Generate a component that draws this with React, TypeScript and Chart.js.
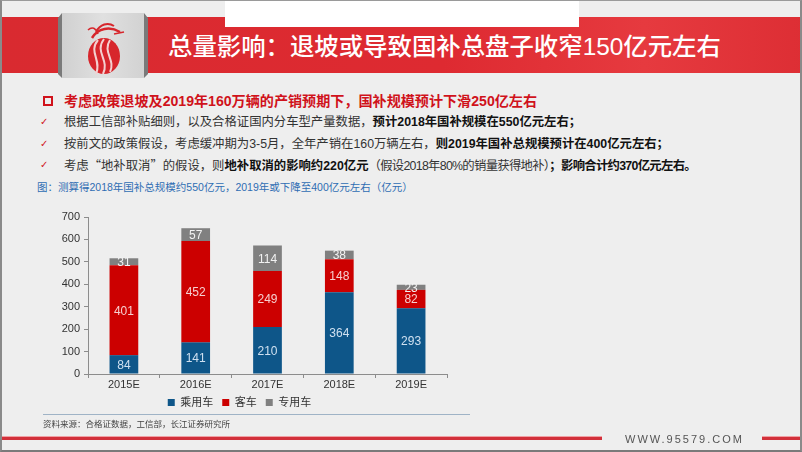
import React, { useEffect, useRef } from "react";
import { Chart, registerables } from "chart.js";

Chart.register(...registerables);

const categories = ["2015E", "2016E", "2017E", "2018E", "2019E"];
const passengerCar = [84, 141, 210, 364, 293];
const bus = [401, 452, 249, 148, 82];
const specialVehicle = [31, 57, 114, 38, 23];
const seriesNames = ["乘用车", "客车", "专用车"];
const seriesColors = ["#0e5689", "#cc0000", "#808080"];
const labelColors = ["#cfe0f0", "#f6cfcf", "#f2f2f2"];
const yMin = 0;
const yMax = 700;
const yStep = 100;

const CJK = '"Liberation Sans", "Noto Sans CJK SC", sans-serif';

const barLabels = {
  id: "barLabels",
  afterDatasetsDraw(chart: any) {
    const ctx = chart.ctx;
    chart.data.datasets.forEach((ds: any, i: number) => {
      const meta = chart.getDatasetMeta(i);
      meta.data.forEach((bar: any, j: number) => {
        const p = bar.getProps(["x", "y", "base"], true);
        ctx.save();
        ctx.fillStyle = labelColors[i];
        ctx.font = '12px "Liberation Sans", Arial, sans-serif';
        ctx.textAlign = "center";
        ctx.textBaseline = "middle";
        ctx.fillText(String(ds.data[j]), p.x, (p.y + p.base) / 2 + 1);
        ctx.restore();
      });
    });
  },
};

function BarChart() {
  const ref = useRef<HTMLCanvasElement | null>(null);
  useEffect(() => {
    if (!ref.current) return;
    const series = [passengerCar, bus, specialVehicle];
    const chart = new Chart(ref.current, {
      type: "bar",
      data: {
        labels: categories,
        datasets: series.map((d, i) => ({
          label: seriesNames[i],
          data: d,
          backgroundColor: seriesColors[i],
          borderWidth: 0,
          barPercentage: 0.4,
          categoryPercentage: 1,
        })),
      },
      options: {
        responsive: false,
        animation: false,
        devicePixelRatio: 1,
        layout: { padding: { top: 11, right: 35, left: 0, bottom: 0 } },
        plugins: {
          tooltip: { enabled: false },
          legend: {
            position: "bottom",
            labels: {
              boxWidth: 7,
              boxHeight: 7,
              padding: 9,
              color: "#333",
              font: { size: 11, family: CJK },
            },
          },
        },
        scales: {
          x: {
            stacked: true,
            grid: {
              display: true,
              drawOnChartArea: false,
              drawTicks: true,
              tickLength: 4,
              color: "#8c8c8c",
              offset: true,
            },
            border: { color: "#8c8c8c", width: 1 },
            ticks: {
              color: "#333",
              padding: 0,
              font: { size: 11, family: '"Liberation Sans", Arial, sans-serif' },
            },
            afterFit: (s: any) => {
              s.height = 14;
            },
          },
          y: {
            stacked: true,
            min: yMin,
            max: yMax,
            ticks: {
              stepSize: yStep,
              color: "#333",
              padding: 4,
              font: { size: 11, family: '"Liberation Sans", Arial, sans-serif' },
            },
            grid: {
              display: true,
              drawOnChartArea: false,
              drawTicks: true,
              tickLength: 4,
              color: "#8c8c8c",
            },
            border: { color: "#8c8c8c", width: 1 },
            afterFit: (s: any) => {
              s.width = 56;
            },
          },
        },
      },
      plugins: [barLabels],
    } as any);
    return () => chart.destroy();
  }, []);
  return (
    <canvas
      ref={ref}
      width={450}
      height={212}
      style={{ position: "absolute", left: 30, top: 205, width: 450, height: 212 }}
    />
  );
}

function Line({ y, x, size, children, color, weight }: any) {
  return (
    <div
      style={{
        position: "absolute",
        left: x,
        top: y - size,
        height: size * 2,
        lineHeight: `${size * 2}px`,
        fontSize: size,
        color: color || "#333",
        fontWeight: weight || 400,
        whiteSpace: "nowrap",
        fontFamily: CJK,
      }}
    >
      {children}
    </div>
  );
}

function Check({ y }: { y: number }) {
  return (
    <div
      style={{
        position: "absolute",
        left: 38,
        top: y - 8,
        height: 16,
        lineHeight: "16px",
        fontSize: 10,
        color: "#d0121b",
        fontFamily: '"DejaVu Sans", sans-serif',
      }}
    >
      ✓
    </div>
  );
}

export default function App() {
  useEffect(() => {
    document.body.style.margin = "0";
  }, []);
  const B = (t: string) => <b style={{ color: "#111", fontWeight: 700 }}>{t}</b>;
  const Q = (t: string) => <span style={{ fontFamily: '"Noto Sans CJK SC", sans-serif' }}>{t}</span>;
  const fs = 12.35;
  return (
    <div
      style={{
        position: "fixed",
        left: 0,
        top: 0,
        width: 802,
        height: 452,
        boxSizing: "border-box",
        background: "#eeeeee",
        borderLeft: "2px solid #8a8a8a",
        borderRight: "2px solid #8a8a8a",
        borderTop: "1px solid #9a9a9a",
        borderBottom: "2px solid #7a7a7a",
        overflow: "hidden",
        fontFamily: CJK,
      }}
    >
      {/* red band */}
      <div
        style={{
          position: "absolute",
          left: -2,
          top: 16,
          width: 806,
          height: 56,
          background:
            "linear-gradient(90deg, #d92a30 0%, #de2a31 55%, #e63a3f 80%, #dd2e34 100%)",
        }}
      />
      {/* white box on top */}
      <div style={{ position: "absolute", left: 223, top: -1, width: 354, height: 27, background: "#ffffff" }} />
      {/* logo box */}
      <svg
        width={90}
        height={68}
        style={{ position: "absolute", left: 56, top: 11 }}
        viewBox="0 0 90 68"
      >
        <defs>
          <linearGradient id="lg" x1="0" x2="1" y1="0" y2="0">
            <stop offset="0" stopColor="#d0d0d0" />
            <stop offset="0.5" stopColor="#e0e0e0" />
            <stop offset="1" stopColor="#d2d2d2" />
          </linearGradient>
        </defs>
        <polygon points="0,6 4,1 4,66 0,62" fill="#7a7a7a" />
        <polygon points="90,6 86,1 86,66 90,62" fill="#7a7a7a" />
        <rect x={4} y={1} width={82} height={65} fill="url(#lg)" />
        <ellipse cx={46} cy={44} rx={16} ry={18} fill="#d7262c" />
        <path d="M40 28 C 30 40, 44 48, 38 62" stroke="#f4d0d0" strokeWidth={2} fill="none" />
        <path d="M46 27 C 36 40, 52 48, 45 62" stroke="#f4d0d0" strokeWidth={2} fill="none" />
        <path d="M52 28 C 44 40, 58 48, 52 60" stroke="#f4d0d0" strokeWidth={2} fill="none" />
        <path d="M34 26 C 40 16, 52 14, 62 20" stroke="#d7262c" strokeWidth={2.5} fill="none" />
        <path d="M38 20 C 42 12, 50 10, 56 14" stroke="#d7262c" strokeWidth={2} fill="none" />
        <path d="M30 18 C 34 14, 38 16, 40 22" stroke="#d7262c" strokeWidth={1.5} fill="none" />
        <path d="M56 22 L 66 20" stroke="#d7262c" strokeWidth={1.5} fill="none" />
      </svg>
      {/* title */}
      <div
        style={{
          position: "absolute",
          left: 166,
          top: 30,
          height: 32,
          lineHeight: "32px",
          fontSize: 24.4,
          color: "#ffffff",
          fontWeight: 500,
          whiteSpace: "nowrap",
          fontFamily: '"Liberation Sans", "Noto Sans CJK SC", sans-serif',
        }}
      >
        总量影响：退坡或导致国补总盘子收窄150亿元左右
      </div>

      {/* bullet 1 */}
      <div
        style={{
          position: "absolute",
          left: 41,
          top: 95,
          width: 6,
          height: 6,
          border: "2px solid #d0121b",
        }}
      />
      <Line x={62} y={100} size={14.1} color="#d0121b" weight={700}>
        考虑政策退坡及2019年160万辆的产销预期下，国补规模预计下滑250亿左右
      </Line>
      <Check y={121} />
      <Line x={62} y={121} size={fs}>
        根据工信部补贴细则，以及合格证国内分车型产量数据，{B("预计2018年国补规模在550亿元左右；")}
      </Line>
      <Check y={143} />
      <Line x={62} y={143} size={fs}>
        按前文的政策假设，考虑缓冲期为3-5月，全年产销在160万辆左右，{B("则2019年国补总规模预计在400亿元左右；")}
      </Line>
      <Check y={164} />
      <Line x={62} y={164} size={fs}>
        考虑{Q("“")}地补取消{Q("”")}的假设，则{B("地补取消的影响约220亿元")}
        <span style={{ letterSpacing: -0.7 }}>
          （假设2018年80%的销量获得地补）{B("；影响合计约370亿元左右。")}
        </span>
      </Line>
      <Line x={35} y={186} size={10.5} color="#2f6db3">
        图：测算得2018年国补总规模约550亿元，2019年或下降至400亿元左右（亿元）
      </Line>

      <BarChart />

      {/* footer */}
      <div style={{ position: "absolute", left: 41, top: 413, width: 427, height: 1, background: "#9fb3c6" }} />
      <Line x={41} y={423} size={8.5} color="#444">
        资料来源：合格证数据，工信部，长江证券研究所
      </Line>
      <div style={{ position: "absolute", left: -2, top: 435, width: 602, height: 1, background: "#f0a0a4" }} />
      <div style={{ position: "absolute", left: -2, top: 436, width: 602, height: 3, background: "#d2303a" }} />
      <div
        style={{
          position: "absolute",
          left: 623,
          top: 430,
          height: 16,
          lineHeight: "16px",
          fontSize: 11,
          letterSpacing: 2,
          color: "#555",
          fontFamily: '"Liberation Sans", Arial, sans-serif',
          whiteSpace: "nowrap",
        }}
      >
        WWW.95579.COM
      </div>
      <div style={{ position: "absolute", left: 760, top: 435, width: 44, height: 1, background: "#f0a0a4" }} />
      <div style={{ position: "absolute", left: 760, top: 436, width: 44, height: 3, background: "#d2303a" }} />
    </div>
  );
}
